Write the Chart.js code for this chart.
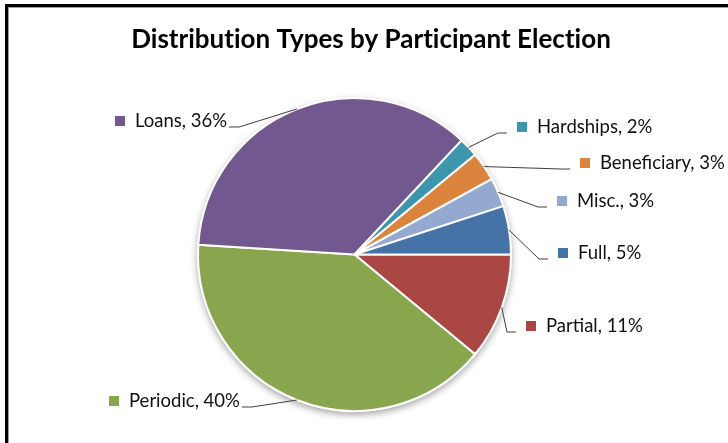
<!DOCTYPE html>
<html>
<head>
<meta charset="utf-8">
<title>Distribution Types by Participant Election</title>
<script src="https://cdn.jsdelivr.net/npm/chart.js@4"></script>
<style>
  html, body { margin: 0; padding: 0; background: #fff; }
  #wrap { width: 728px; height: 443px; }
</style>
</head>
<body>
<div id="wrap"><canvas id="grafico" width="728" height="443"></canvas></div>
<script>
// slices, clockwise from 3 o'clock
const categorias = ['Partial', 'Periodic', 'Loans', 'Hardships', 'Beneficiary', 'Misc.', 'Full'];
const percentuais = [11, 40, 36, 2, 3, 3, 5];
const cores = ['#AA4643', '#89A54E', '#71588F', '#3D96AE', '#DB843D', '#93A9CF', '#4572A7'];
const titulo = 'Distribution Types by Participant Election';

// where each callout label sits: x of the colour key, middle of the text line
const posRotulos = [
  { x: 526, y: 326, lado: 'dir' },
  { x: 109, y: 401, lado: 'esq' },
  { x: 115, y: 121, lado: 'esq' },
  { x: 517, y: 127, lado: 'dir' },
  { x: 580, y: 163, lado: 'dir' },
  { x: 557, y: 201, lado: 'dir' },
  { x: 558, y: 253, lado: 'dir' }
];

const fonteRotulo = '18.5px Lato';
const fonteTitulo = 'bold 26px Lato';

const moldura = {
  id: 'moldura',
  beforeDraw(chart) {
    const c = chart.ctx;
    c.save();
    c.fillStyle = '#fff';
    c.fillRect(0, 0, chart.width, chart.height);
    c.fillStyle = '#000';
    c.fillRect(5, 4, 3, chart.height);
    c.fillRect(5, 4, chart.width, 3);
    c.fillStyle = '#9a9a9a';
    c.fillRect(8, 7, 1, chart.height);
    c.fillRect(8, 7, chart.width, 1);
    // title (tiny letter spacing keeps Lato from joining "ti")
    c.fillStyle = '#000';
    c.font = fonteTitulo;
    c.letterSpacing = '0.01px';
    c.textAlign = 'center';
    c.textBaseline = 'middle';
    c.fillText(titulo, 371, 40);
    c.restore();
  },
  beforeDatasetsDraw(chart) {
    // soft shadow under the whole pie
    const arc = chart.getDatasetMeta(0).data[0];
    if (!arc) return;
    const c = chart.ctx;
    c.save();
    c.shadowColor = 'rgba(0,0,0,0.35)';
    c.shadowBlur = 7;
    c.shadowOffsetY = 3;
    c.fillStyle = '#fff';
    c.beginPath();
    c.arc(arc.x, arc.y, arc.outerRadius + 1, 0, Math.PI * 2);
    c.fill();
    c.restore();
  }
};

const rotulos = {
  id: 'rotulos',
  afterDatasetsDraw(chart) {
    const c = chart.ctx;
    const meta = chart.getDatasetMeta(0);
    c.save();
    c.font = fonteRotulo;
    c.textBaseline = 'middle';
    meta.data.forEach((arc, i) => {
      const p = posRotulos[i];
      const texto = categorias[i] + ', ' + percentuais[i] + '%';
      const meio = (arc.startAngle + arc.endAngle) / 2;
      const bx = arc.x + arc.outerRadius * Math.cos(meio);
      const by = arc.y + arc.outerRadius * Math.sin(meio);
      const linhaY = p.y + 6;
      let fimX, cotoX;
      if (p.lado === 'dir') {
        fimX = p.x - 10;
        cotoX = p.x - 19;
      } else {
        const w = c.measureText(texto).width;
        fimX = p.x + 20 + w + 2;
        cotoX = fimX + 10;
      }
      c.strokeStyle = '#404040';
      c.lineWidth = 1;
      c.beginPath();
      c.moveTo(bx, by);
      c.lineTo(cotoX, linhaY);
      c.lineTo(fimX, linhaY);
      c.stroke();
      // colour key + text
      c.fillStyle = cores[i];
      c.fillRect(p.x, p.y - 5, 10, 10);
      c.fillStyle = '#111';
      c.textAlign = 'left';
      c.fillText(texto, p.x + 20, p.y);
    });
    c.restore();
  }
};

const ctx = document.getElementById('grafico').getContext('2d');
const chart = new Chart(ctx, {
  type: 'pie',
  data: {
    labels: categorias,
    datasets: [{
      data: percentuais,
      backgroundColor: cores,
      borderColor: '#fff',
      borderWidth: 2,
      hoverOffset: 0
    }]
  },
  options: {
    responsive: false,
    animation: false,
    rotation: 90,
    layout: { padding: { left: 197, right: 216, top: 97, bottom: 31 } },
    plugins: {
      legend: { display: false },
      tooltip: { enabled: false },
      title: { display: false }
    }
  },
  plugins: [moldura, rotulos]
});
</script>
</body>
</html>
